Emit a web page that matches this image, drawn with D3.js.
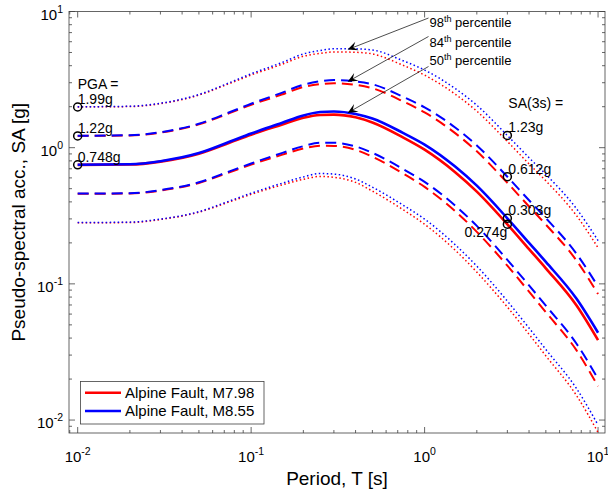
<!DOCTYPE html>
<html>
<head>
<meta charset="utf-8">
<script src="https://cdn.jsdelivr.net/npm/d3@7"></script>
<style>
	body { margin: 0; background: #fff; }
	text { font-family: 'Liberation Sans', Arial, Helvetica, sans-serif; fill: #000; }
</style>
</head>
<body>
<svg width="608" height="493"></svg>
<script>

const PERIODS = [0.01, 0.02, 0.03, 0.05, 0.075, 0.1, 0.15, 0.2, 0.25, 0.3, 0.4, 0.5, 0.75, 1, 1.5, 2, 3, 4, 5, 7.5, 10];

// Alpine Fault, M7.98 (red)
const RED_50 = [0.748, 0.752, 0.790, 0.904, 1.088, 1.245, 1.474, 1.659, 1.740, 1.750, 1.670, 1.530, 1.190, 0.967, 0.661, 0.476, 0.274, 0.180, 0.130, 0.0696, 0.0386];
const RED_84 = [1.221, 1.228, 1.290, 1.483, 1.794, 2.063, 2.455, 2.790, 2.927, 2.973, 2.895, 2.733, 2.190, 1.816, 1.279, 0.940, 0.552, 0.370, 0.2725, 0.1488, 0.0842];
const RED_16 = [0.458, 0.461, 0.484, 0.551, 0.660, 0.751, 0.885, 0.986, 1.034, 1.030, 0.964, 0.857, 0.647, 0.515, 0.342, 0.241, 0.136, 0.0876, 0.0620, 0.0326, 0.0177];
const RED_98 = [1.993, 2.004, 2.105, 2.433, 2.958, 3.418, 4.088, 4.694, 4.923, 5.051, 5.017, 4.881, 4.031, 3.409, 2.474, 1.855, 1.111, 0.760, 0.571, 0.318, 0.184];
const RED_02 = [0.281, 0.282, 0.297, 0.336, 0.400, 0.454, 0.532, 0.586, 0.615, 0.606, 0.556, 0.480, 0.351, 0.274, 0.177, 0.122, 0.0676, 0.0427, 0.0296, 0.0152, 0.0081];

// Alpine Fault, M8.55 (blue)
const BLUE_50 = [0.750, 0.756, 0.796, 0.913, 1.104, 1.270, 1.518, 1.725, 1.827, 1.846, 1.770, 1.637, 1.285, 1.054, 0.727, 0.526, 0.303, 0.200, 0.145, 0.078, 0.0438];
const BLUE_84 = [1.224, 1.234, 1.299, 1.498, 1.820, 2.104, 2.528, 2.901, 3.073, 3.136, 3.068, 2.924, 2.365, 1.979, 1.407, 1.038, 0.612, 0.411, 0.304, 0.1668, 0.0956];
const BLUE_16 = [0.460, 0.463, 0.488, 0.557, 0.670, 0.766, 0.912, 1.026, 1.086, 1.087, 1.021, 0.917, 0.698, 0.561, 0.376, 0.2665, 0.150, 0.0974, 0.0692, 0.0365, 0.0201];
const BLUE_98 = [1.998, 2.014, 2.121, 2.457, 3.001, 3.487, 4.210, 4.880, 5.169, 5.328, 5.317, 5.222, 4.353, 3.716, 2.721, 2.049, 1.229, 0.844, 0.637, 0.357, 0.208];
const BLUE_02 = [0.282, 0.284, 0.299, 0.339, 0.406, 0.463, 0.547, 0.610, 0.646, 0.640, 0.589, 0.513, 0.379, 0.299, 0.194, 0.135, 0.0747, 0.0474, 0.0330, 0.0171, 0.0092];

const LEGEND_NAMES = ['Alpine Fault, M7.98', 'Alpine Fault, M8.55'];

// marked values
const PGA_PERIOD = 0.01;
const PGA_VALUES = [1.99, 1.22, 0.748];
const SA3_PERIOD = 3;
const SA3_VALUES = [1.23, 0.612, 0.303, 0.274];

// percentile annotations and the point each arrow points at
const PERCENTILES = ['98', '84', '50'];
const ARROW_TIPS = [[0.36, 5.25], [0.36, 3.05], [0.36, 1.8]];

const X_TICKS = [0.01, 0.1, 1, 10];
const Y_TICKS = [0.01, 0.1, 1, 10];

const PLOT = { left: 69, right: 605, top: 11.5, bottom: 433 };

function whenDocumentLoaded(action) {
	if (document.readyState === 'loading') {
		document.addEventListener('DOMContentLoaded', action);
	} else {
		action();
	}
}

function minorTicks(lo, hi) {
	let out = [];
	for (let e = Math.floor(Math.log10(lo)); e <= Math.ceil(Math.log10(hi)); e++) {
		for (let m = 2; m <= 9; m++) {
			let v = m * Math.pow(10, e);
			if (v > lo && v < hi) out.push(v);
		}
	}
	return out;
}

function powerLabel(sel, exp) {
	sel.append('tspan').text('10');
	sel.append('tspan').attr('font-size', 10.5).attr('dy', -7).text(exp);
}

whenDocumentLoaded(() => {

	const svg = d3.select('svg');

	const x = d3.scaleLog()
		.domain([Math.pow(10, -2.05), Math.pow(10, 1.04)])
		.range([PLOT.left, PLOT.right]);

	const y = d3.scaleLog()
		.domain([Math.pow(10, -2.095), 10])
		.range([PLOT.bottom, PLOT.top]);

	svg.append('defs').append('clipPath').attr('id', 'clip')
		.append('rect')
		.attr('x', PLOT.left).attr('y', PLOT.top)
		.attr('width', PLOT.right - PLOT.left).attr('height', PLOT.bottom - PLOT.top);

	const axisColor = '#404040';

	// ticks on all four sides, pointing inward
	const xMinor = minorTicks(x.domain()[0], x.domain()[1]);
	const yMinor = minorTicks(y.domain()[0], y.domain()[1]);
	const ticks = svg.append('g').attr('stroke', axisColor).attr('stroke-width', 0.8);

	const addXTicks = (vals, len) => {
		vals.forEach(v => {
			ticks.append('line').attr('x1', x(v)).attr('x2', x(v)).attr('y1', PLOT.bottom).attr('y2', PLOT.bottom - len);
			ticks.append('line').attr('x1', x(v)).attr('x2', x(v)).attr('y1', PLOT.top).attr('y2', PLOT.top + len);
		});
	};
	const addYTicks = (vals, len) => {
		vals.forEach(v => {
			ticks.append('line').attr('y1', y(v)).attr('y2', y(v)).attr('x1', PLOT.left).attr('x2', PLOT.left + len);
			ticks.append('line').attr('y1', y(v)).attr('y2', y(v)).attr('x1', PLOT.right).attr('x2', PLOT.right - len);
		});
	};
	addXTicks(X_TICKS, 6);
	addXTicks(xMinor, 3);
	addYTicks(Y_TICKS, 6);
	addYTicks(yMinor, 3);

	// tick labels
	X_TICKS.forEach(v => {
		let t = svg.append('text')
			.attr('x', x(v)).attr('y', 462)
			.attr('font-size', 15).attr('text-anchor', 'middle');
		powerLabel(t, String(Math.round(Math.log10(v))));
	});
	Y_TICKS.forEach(v => {
		let t = svg.append('text')
			.attr('x', 63).attr('y', y(v) + 8)
			.attr('font-size', 15).attr('text-anchor', 'end');
		powerLabel(t, String(Math.round(Math.log10(v))));
	});

	// axis titles
	svg.append('text')
		.attr('x', (PLOT.left + PLOT.right) / 2).attr('y', 485)
		.attr('font-size', 19).attr('text-anchor', 'middle')
		.text('Period, T [s]');
	svg.append('text')
		.attr('transform', 'translate(25,' + (PLOT.top + PLOT.bottom) / 2 + ') rotate(-90)')
		.attr('font-size', 19).attr('text-anchor', 'middle')
		.text('Pseudo-spectral acc., SA [g]');

	// spectra
	const series = [
		{ values: RED_98, color: '#ff0000', style: 'dot' },
		{ values: RED_84, color: '#ff0000', style: 'dash' },
		{ values: RED_50, color: '#ff0000', style: 'solid' },
		{ values: RED_16, color: '#ff0000', style: 'dash' },
		{ values: RED_02, color: '#ff0000', style: 'dot' },
		{ values: BLUE_98, color: '#0000ff', style: 'dot' },
		{ values: BLUE_84, color: '#0000ff', style: 'dash' },
		{ values: BLUE_50, color: '#0000ff', style: 'solid' },
		{ values: BLUE_16, color: '#0000ff', style: 'dash' },
		{ values: BLUE_02, color: '#0000ff', style: 'dot' }
	];
	const widths = { solid: 2.6, dash: 2, dot: 1.5 };
	const dashes = { solid: null, dash: '11,6', dot: '1.5,2.5' };

	const line = d3.line()
		.x(d => x(d[0]))
		.y(d => y(d[1]))
		.curve(d3.curveMonotoneX);

	const lines = svg.append('g').attr('clip-path', 'url(#clip)');
	series.forEach(s => {
		lines.append('path')
			.datum(PERIODS.map((p, i) => [p, s.values[i]]))
			.attr('d', line)
			.attr('fill', 'none')
			.attr('stroke', s.color)
			.attr('stroke-width', widths[s.style])
			.attr('stroke-dasharray', dashes[s.style]);
	});

	// frame
	svg.append('rect')
		.attr('x', PLOT.left).attr('y', PLOT.top)
		.attr('width', PLOT.right - PLOT.left).attr('height', PLOT.bottom - PLOT.top)
		.attr('fill', 'none').attr('stroke', axisColor).attr('stroke-width', 0.8);

	// circles and value labels
	const marks = svg.append('g');
	PGA_VALUES.forEach(v => {
		marks.append('circle').attr('cx', x(PGA_PERIOD)).attr('cy', y(v)).attr('r', 4)
			.attr('fill', 'none').attr('stroke', '#000').attr('stroke-width', 1.5);
		marks.append('text').attr('x', x(PGA_PERIOD)).attr('y', y(v) - 3)
			.attr('font-size', 14).text(v + 'g');
	});
	marks.append('text').attr('x', x(PGA_PERIOD)).attr('y', 89).attr('font-size', 14).text('PGA =');

	SA3_VALUES.forEach((v, i) => {
		marks.append('circle').attr('cx', x(SA3_PERIOD)).attr('cy', y(v)).attr('r', 4)
			.attr('fill', 'none').attr('stroke', '#000').attr('stroke-width', 1.5);
		let last = i === SA3_VALUES.length - 1;
		marks.append('text')
			.attr('x', x(SA3_PERIOD) + (last ? 0 : 1))
			.attr('y', last ? y(v) + 13 : y(v) - 3)
			.attr('text-anchor', last ? 'end' : 'start')
			.attr('font-size', 14).text(v + 'g');
	});
	marks.append('text').attr('x', x(SA3_PERIOD) + 1).attr('y', 108).attr('font-size', 14).text('SA(3s) =');

	// percentile labels with arrows
	const labelX = 428.5;
	const labelBase = [26.5, 47, 64.5];
	const arrowStart = [[428.5, 18], [428.5, 36.5], [428.5, 66.5]];
	PERCENTILES.forEach((p, i) => {
		let t = svg.append('text').attr('x', labelX + 1).attr('y', labelBase[i]).attr('font-size', 13);
		t.append('tspan').text(p);
		t.append('tspan').attr('font-size', 9).attr('dy', -5).text('th');
		t.append('tspan').attr('dy', 5).text(' percentile');

		let x0 = arrowStart[i][0], y0 = arrowStart[i][1];
		let x1 = x(ARROW_TIPS[i][0]), y1 = y(ARROW_TIPS[i][1]);
		let ang = Math.atan2(y1 - y0, x1 - x0);
		let L = 10, W = 4.5;
		let ca = Math.cos(ang), sa = Math.sin(ang);
		let pt = (a, b) => [x1 - a * ca + b * sa, y1 - a * sa - b * ca];
		svg.append('line')
			.attr('x1', x0).attr('y1', y0)
			.attr('x2', pt(6, 0)[0]).attr('y2', pt(6, 0)[1])
			.attr('stroke', '#000').attr('stroke-width', 0.7);
		svg.append('path')
			.attr('d', 'M' + [x1, y1] + 'L' + pt(L, W) + 'L' + pt(6, 0) + 'L' + pt(L, -W) + 'Z')
			.attr('fill', '#000');
	});

	// legend
	const legend = svg.append('g');
	legend.append('rect')
		.attr('x', 80.5).attr('y', 381.5).attr('width', 183.5).attr('height', 42.5)
		.attr('fill', '#fff').attr('stroke', axisColor).attr('stroke-width', 0.8);
	['#ff0000', '#0000ff'].forEach((c, i) => {
		let ly = 392.7 + i * 18.3;
		legend.append('line')
			.attr('x1', 85).attr('x2', 121).attr('y1', ly).attr('y2', ly)
			.attr('stroke', c).attr('stroke-width', 2.6);
		legend.append('text')
			.attr('x', 125).attr('y', ly + 5.3)
			.attr('font-size', 15).text(LEGEND_NAMES[i]);
	});

});
</script>
</body>
</html>
